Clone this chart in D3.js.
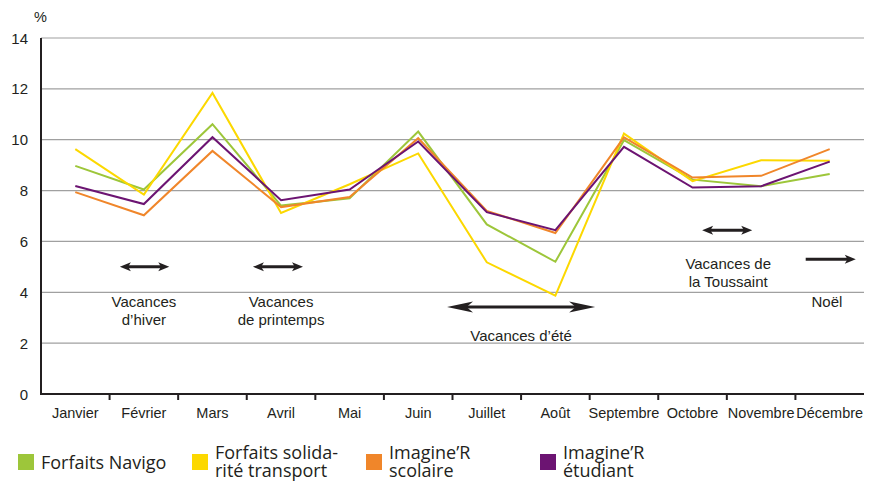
<!DOCTYPE html>
<html><head><meta charset="utf-8">
<script src="https://cdn.jsdelivr.net/npm/d3@7"></script>
<style>
html,body{margin:0;padding:0;background:#fff;}
svg{display:block;}
</style></head>
<body>
<script>
const months = ["Janvier","Février","Mars","Avril","Mai","Juin","Juillet","Août","Septembre","Octobre","Novembre","Décembre"];
const navigo     = [8.97, 8.04, 10.61, 7.41, 7.70, 10.32, 6.67, 5.20, 9.98, 8.43, 8.17, 8.65];
const solidarite = [9.63, 7.84, 11.84, 7.12, 8.25, 9.46, 5.18, 3.87, 10.24, 8.37, 9.19, 9.17];
const scolaire   = [7.94, 7.03, 9.56, 7.35, 7.75, 10.06, 7.20, 6.33, 10.09, 8.51, 8.58, 9.63];
const etudiant   = [8.18, 7.47, 10.10, 7.62, 8.04, 9.93, 7.15, 6.44, 9.72, 8.12, 8.17, 9.14];
const yTicks = [0, 2, 4, 6, 8, 10, 12, 14];
const seriesNames = [["Forfaits Navigo"], ["Forfaits solida-", "rité transport"], ["Imagine’R", "scolaire"], ["Imagine’R", "étudiant"]];
const seriesColors = ["#9dc63a", "#fcd800", "#f0862a", "#6c1472"];
const seriesValues = [navigo, solidarite, scolaire, etudiant];
// holiday annotations: month-index span, value level, label lines
const holidays = [
  {x0: 0.65, x1: 1.37, y: 5.0, both: true, lx: 1.0, ly: [3.6, 2.9], text: ["Vacances", "d’hiver"]},
  {x0: 2.59, x1: 3.32, y: 5.0, both: true, lx: 3.0, ly: [3.6, 2.9], text: ["Vacances", "de printemps"]},
  {x0: 5.42, x1: 7.58, y: 3.42, both: true, lx: 6.5, ly: [2.3], text: ["Vacances d’été"]},
  {x0: 9.14, x1: 9.87, y: 6.44, both: true, lx: 9.52, ly: [5.1, 4.4], text: ["Vacances de", "la Toussaint"]},
  {x0: 10.65, x1: 11.38, y: 5.3, both: false, lx: 10.96, ly: [3.6], text: ["Noël"]}
];

(function () {
const W = 875, H = 484;
const svg = d3.select("body").append("svg").attr("width", W).attr("height", H);
const mLeft = 41, mRight = 864, mTop = 38, mBottom = 394;

const x = d3.scalePoint().domain(months).range([mLeft, mRight]).padding(0.5);
const xi = d3.scaleLinear().domain([-0.5, 11.5]).range([mLeft, mRight]);
const y = d3.scaleLinear().domain([0, 14]).range([mBottom, mTop]);

const font = "'Liberation Sans', Arial, Helvetica, sans-serif";
const txt = "#231f20";

// grid
svg.append("g").selectAll("line").data(yTicks.filter(d => d > 0)).join("line")
  .attr("x1", mLeft).attr("x2", mRight).attr("y1", d => y(d)).attr("y2", d => y(d))
  .attr("stroke", "#a0a0a0").attr("stroke-width", 1.2);

// y labels
svg.append("g").selectAll("text").data(yTicks).join("text")
  .attr("x", 28).attr("y", d => y(d) + 5.5).attr("text-anchor", "end")
  .attr("font-family", font).attr("font-size", 15).attr("fill", txt).text(d => d);
svg.append("text").attr("x", 34).attr("y", 22).attr("font-family", font)
  .attr("font-size", 14.5).attr("fill", txt).text("%");

// holiday arrows
function arrow(g, xa, xb, yy, both, big) {
  const hl = big ? 26 : 11, hh = big ? 5.5 : 4.5;
  const sx = xi(xa), ex = xi(xb), py = y(yy);
  g.append("line").attr("x1", both ? sx + hl * 0.6 : sx).attr("x2", ex - hl * 0.6)
    .attr("y1", py).attr("y2", py).attr("stroke", "#231f20").attr("stroke-width", 3);
  g.append("path").attr("d", `M${ex},${py} L${ex - hl},${py - hh} L${ex - hl * 0.75},${py} L${ex - hl},${py + hh} Z`).attr("fill", "#231f20");
  if (both) g.append("path").attr("d", `M${sx},${py} L${sx + hl},${py - hh} L${sx + hl * 0.75},${py} L${sx + hl},${py + hh} Z`).attr("fill", "#231f20");
}
const ag = svg.append("g");
holidays.forEach(h => {
  arrow(ag, h.x0, h.x1, h.y, h.both, (h.x1 - h.x0) > 1.5);
  h.text.forEach((t, i) => {
    ag.append("text").attr("x", xi(h.lx)).attr("y", y(h.ly[i]) + 5)
      .attr("text-anchor", "middle").attr("font-family", font).attr("font-size", 15)
      .attr("fill", txt).text(t);
  });
});

// lines
const line = d3.line().x((d, i) => x(months[i])).y(d => y(d));
svg.append("g").selectAll("path").data(seriesValues).join("path")
  .attr("d", d => line(d)).attr("fill", "none")
  .attr("stroke", (d, i) => seriesColors[i]).attr("stroke-width", 2)
  .attr("stroke-linejoin", "miter");

// axes
svg.append("line").attr("x1", mLeft).attr("x2", mLeft).attr("y1", mTop).attr("y2", mBottom + 1)
  .attr("stroke", "#231f20").attr("stroke-width", 2);
svg.append("line").attr("x1", mLeft - 1).attr("x2", mRight).attr("y1", mBottom).attr("y2", mBottom)
  .attr("stroke", "#231f20").attr("stroke-width", 2);
svg.append("g").selectAll("line").data(d3.range(1, 12)).join("line")
  .attr("x1", d => xi(d - 0.5)).attr("x2", d => xi(d - 0.5))
  .attr("y1", mBottom).attr("y2", mBottom + 6).attr("stroke", "#231f20").attr("stroke-width", 2);
svg.append("g").selectAll("text").data(months).join("text")
  .attr("x", d => x(d)).attr("y", 418).attr("text-anchor", "middle")
  .attr("font-family", font).attr("font-size", 14.5).attr("fill", txt).text(d => d);

// legend
const legX = [18, 192, 366, 540];
const lg = svg.append("g");
seriesNames.forEach((n, i) => {
  lg.append("rect").attr("x", legX[i]).attr("y", 454).attr("width", 16).attr("height", 16)
    .attr("fill", seriesColors[i]);
  const rows = n.length === 1 ? [469] : [459, 477];
  n.forEach((t, j) => {
    lg.append("text").attr("x", legX[i] + 23).attr("y", rows[j])
      .attr("font-family", "'Open Sans', 'Noto Sans', sans-serif").attr("font-size", 18)
      .attr("fill", txt).text(t);
  });
});
})();
</script>
</body></html>
